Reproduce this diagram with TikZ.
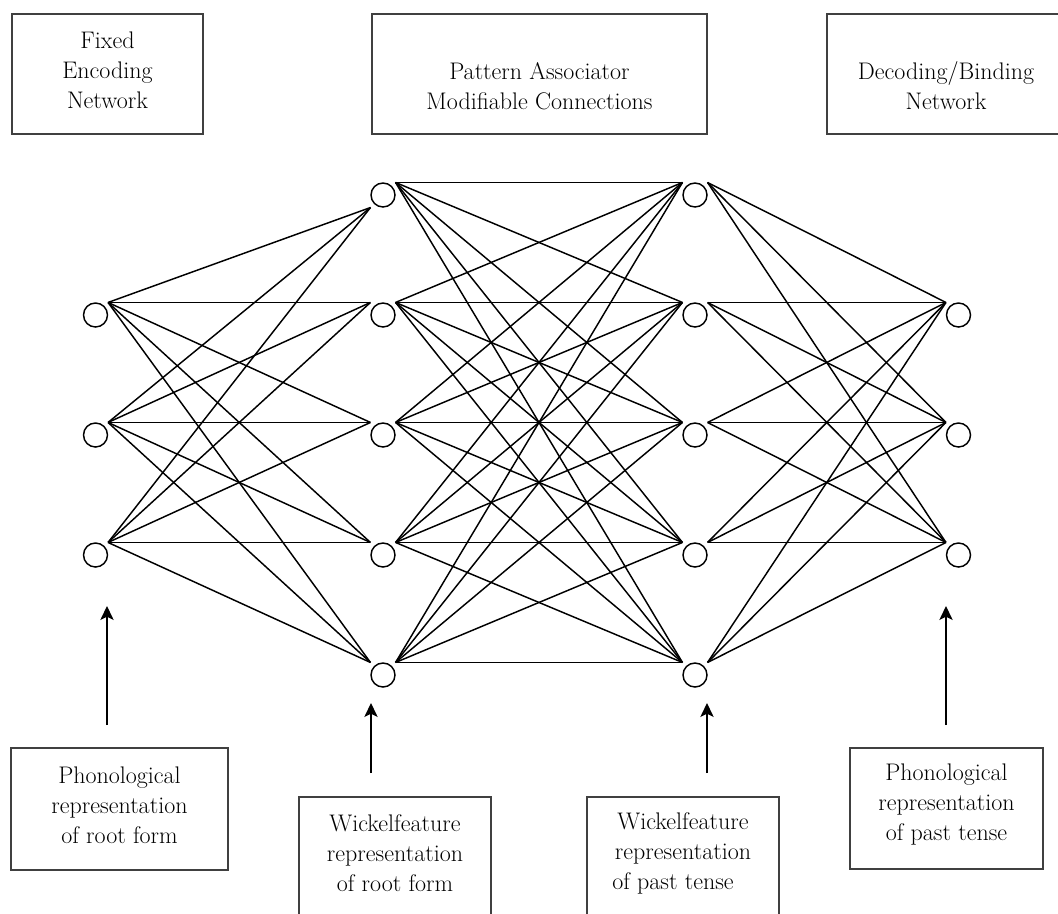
\documentclass[tikz,border=0pt]{standalone}
\usepackage{fontspec}
\usetikzlibrary{arrows.meta}
\begin{document}
\begin{tikzpicture}[x=0.75pt,y=-0.75pt,
  neuron/.style={circle,draw,line width=1.1pt,inner sep=0pt,minimum size=18pt,outer sep=4.3pt},
  link/.style={line width=1.1pt},
  frame/.style={draw=black!75,line width=0.8pt,inner sep=0pt},
  txt/.style={align=center,font=\fontsize{18}{22.5}\selectfont,inner sep=0pt},
  uparrow/.style={line width=1.1pt,-{Stealth[length=10.5pt,width=10pt,inset=2.5pt]}}]
\clip (0,0) rectangle (1058,914);

% top boxes
\node[frame,minimum width=143.25pt,minimum height=90pt] (fen) at (107.5,74) {};
\node[txt] (fent) at (107.5,70) {Fixed\\Encoding\\Network};
\node[frame,minimum width=251.25pt,minimum height=90pt] (pam) at (539.5,74) {};
\node[txt] (pamt) at (539.5,86) {Pattern Associator\\Modifiable Connections};
\node[frame,minimum width=178.5pt,minimum height=90pt] (dbn) at (946,74) {};
\node[txt] (dbnt) at (946,86) {Decoding/Binding\\Network};

% bottom boxes
\node[frame,minimum width=162.75pt,minimum height=91.5pt] (prf) at (119.5,809) {};
\node[txt] (prft) at (119.5,805) {Phonological\\representation\\of root form};
\node[frame,minimum width=144.75pt,minimum height=90.75pt] (ppt) at (946.5,808.5) {};
\node[txt] (pptt) at (946.5,805) {Phonological\\representation\\of past tense};
\node[frame,minimum width=144pt,minimum height=107.25pt] (wrf) at (395,868.5) {};
\node[txt] (wrft) at (395,853) {Wickelfeature\\representation\\of root form};
\node[frame,minimum width=144pt,minimum height=107.25pt] (wpt) at (683,868.5) {};
\node[txt] (wptt) at (683,853) {Wickelfeature\\representation\\of past tense\hspace*{15pt}};

% units
\foreach \i/\y in {1/315,2/435,3/555} {
  \node[neuron] (a\i) at (95.5,\y) {};
  \node[neuron] (d\i) at (958.5,\y) {};
}
\foreach \i/\y in {1/195,2/315,3/435,4/555,5/675} {
  \node[neuron] (b\i) at (383,\y) {};
  \node[neuron] (c\i) at (695,\y) {};
}

% connections
\foreach \i in {1,2,3} {
  \draw[link] (a\i.north east) -- (b1.south west);
  \foreach \j in {2,...,5} \draw[link] (a\i.north east) -- (b\j.north west);
}
\foreach \i in {1,...,5} \foreach \j in {1,...,5}
  \draw[link] (b\i.north east) -- (c\j.north west);
\foreach \i in {1,...,5} \foreach \j in {1,2,3}
  \draw[link] (c\i.north east) -- (d\j.north west);

% input / output arrows
\coordinate (s1) at (107,725); \coordinate (e1) at (107,606);
\coordinate (s2) at (371,773); \coordinate (e2) at (371,703);
\coordinate (s3) at (707,773); \coordinate (e3) at (707,703);
\coordinate (s4) at (946,725); \coordinate (e4) at (946,606);
\foreach \k in {1,...,4} \draw[uparrow] (s\k) -- (e\k);
\end{tikzpicture}
\end{document}
